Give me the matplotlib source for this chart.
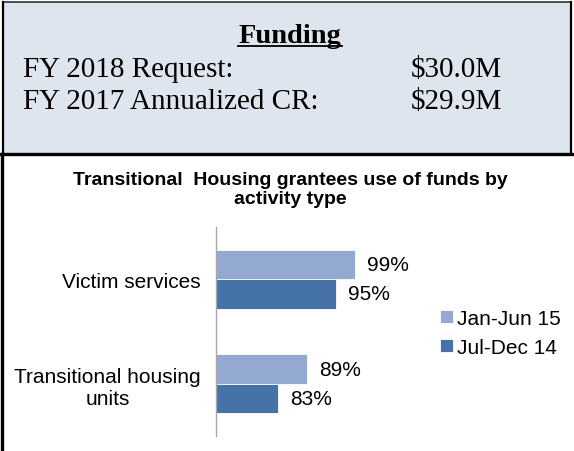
import matplotlib.pyplot as plt
from matplotlib.patches import Rectangle
from matplotlib.lines import Line2D

# funding box
funding_rows = ["FY 2018 Request:", "FY 2017 Annualized CR:"]
funding_values = ["$30.0M", "$29.9M"]

# chart data
title_lines = ["Transitional  Housing grantees use of funds by", "activity type"]
categories = ["Transitional housing\nunits", "Victim services"]
jan_jun_15 = [89, 99]
jul_dec_14 = [83, 95]
series_names = ["Jan-Jun 15", "Jul-Dec 14"]
light_blue = "#94a9d1"
dark_blue = "#4572a7"

W, H = 574, 452


def fx(px):
    return px / W


def fy(py):
    return 1 - py / H


fig = plt.figure(figsize=(W / 100, H / 100), dpi=100)
fig.patch.set_facecolor("white")

# grey funding panel and borders
fig.add_artist(Rectangle((fx(3), fy(155)), fx(568), 152 / H, transform=fig.transFigure,
                         facecolor="#dfe5ee", edgecolor="none", zorder=0))
fig.add_artist(Line2D([fx(3), fx(571)], [fy(3), fy(3)], color="#333333", lw=1.2))
fig.add_artist(Line2D([fx(3), fx(3)], [fy(3), fy(155)], color="black", lw=1.6))
fig.add_artist(Line2D([fx(571), fx(571)], [fy(3), fy(155)], color="black", lw=1.6))
fig.add_artist(Line2D([0, 1], [fy(155), fy(155)], color="black", lw=2.4))
fig.add_artist(Line2D([fx(1.5), fx(1.5)], [fy(155), 0], color="black", lw=2.4))

serif = "Liberation Serif"
fig.text(fx(290), fy(43), "Funding", family=serif, fontsize=20.5, fontweight="bold",
         ha="center", va="baseline")
fig.add_artist(Line2D([fx(238), fx(342)], [fy(47), fy(47)], color="black", lw=1.3))
for i, (name, val) in enumerate(zip(funding_rows, funding_values)):
    yb = 77 + i * 32
    fig.text(fx(23), fy(yb), name, family=serif, fontsize=21, va="baseline")
    fig.text(fx(411), fy(yb), val, family=serif, fontsize=21, va="baseline")

# chart
sans = "Liberation Sans"
for i, line in enumerate(title_lines):
    fig.text(fx(290), fy(185 + i * 19), line, family=sans, fontsize=14,
             fontweight="bold", ha="center", va="baseline")

ax = fig.add_axes([fx(216), fy(437), 144 / W, 209 / H])
pos = list(range(len(categories)))
h = 0.28
ax.barh([p + h / 2 for p in pos], jan_jun_15, height=h, color=light_blue,
        edgecolor="white", linewidth=0.6, label=series_names[0])
ax.barh([p - h / 2 for p in pos], jul_dec_14, height=h, color=dark_blue,
        edgecolor="white", linewidth=0.6, label=series_names[1])
ax.set_xlim(70, 100)
ax.set_ylim(-0.5, 1.5)
for p, a, b in zip(pos, jan_jun_15, jul_dec_14):
    ax.text(a + 2.4, p + h / 2, f"{a}%", fontsize=15, family=sans, va="center", clip_on=False)
    ax.text(b + 2.4, p - h / 2, f"{b}%", fontsize=15, family=sans, va="center", clip_on=False)

ax.set_yticks(pos)
ax.set_yticklabels(categories, fontsize=15, family=sans, multialignment="center")
ax.tick_params(axis="y", length=0, pad=11)
ax.set_xticks([])
for s in ["top", "right", "bottom"]:
    ax.spines[s].set_visible(False)
ax.spines["left"].set_color("#a6a6a6")
ax.spines["left"].set_linewidth(1.0)
ax.patch.set_visible(False)

leg = fig.legend(loc="center left", bbox_to_anchor=(fx(440), fy(334)), frameon=False,
                 prop={"family": sans, "size": 15}, handlelength=0.6, handleheight=0.6,
                 handletextpad=0.2, labelspacing=0.5, borderaxespad=0, borderpad=0)

fig.savefig("out.png", dpi=100)
